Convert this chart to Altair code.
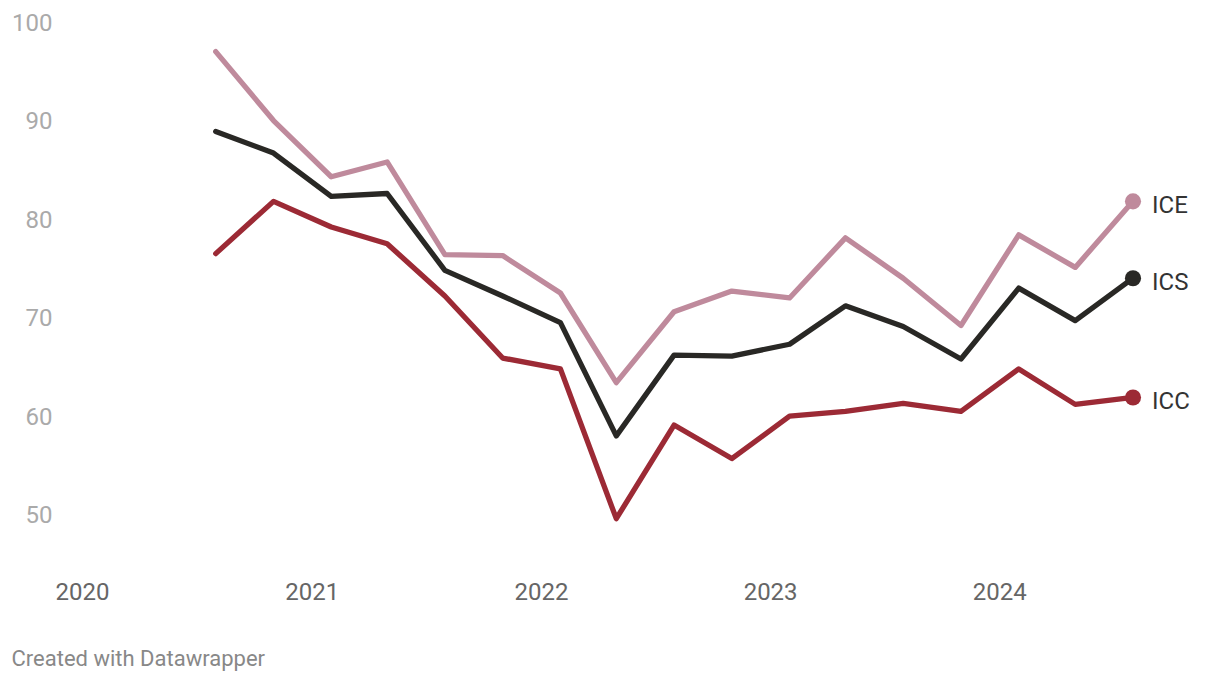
import altair as alt
import pandas as pd

dates = ["2020-08-01", "2020-11-01", "2021-02-01", "2021-05-01", "2021-08-01",
         "2021-11-01", "2022-02-01", "2022-05-01", "2022-08-01", "2022-11-01",
         "2023-02-01", "2023-05-01", "2023-08-01", "2023-11-01", "2024-02-01",
         "2024-05-01", "2024-08-01"]
ice = [97.1, 90.1, 84.4, 85.9, 76.5, 76.4, 72.6, 63.5, 70.7, 72.8, 72.1, 78.2, 74.1, 69.3, 78.5, 75.2, 81.9]
ics = [89.0, 86.8, 82.4, 82.7, 74.9, 72.3, 69.6, 58.1, 66.3, 66.2, 67.4, 71.3, 69.2, 65.9, 73.1, 69.8, 74.1]
icc = [76.6, 81.9, 79.3, 77.6, 72.3, 66.0, 64.9, 49.7, 59.2, 55.8, 60.1, 60.6, 61.4, 60.6, 64.9, 61.3, 62.0]

series = ["ICE", "ICS", "ICC"]
colors = ["#bf8a9c", "#292825", "#9c2a35"]
year_ticks = [2020, 2021, 2022, 2023, 2024]

rows = []
for name, vals in zip(series, [ice, ics, icc]):
    for d, v in zip(dates, vals):
        rows.append({"date": d, "value": v, "series": name})
df = pd.DataFrame(rows)
last = df[df["date"] == dates[-1]]

FONT = "Roboto"

x = alt.X("date:T",
          scale=alt.Scale(type="utc",
                          domain=[alt.DateTime(year=2020, month=1, date=1, utc=True),
                                  alt.DateTime(year=2024, month=8, date=1, utc=True)]),
          axis=alt.Axis(values=[alt.DateTime(year=y, month=1, date=1, utc=True) for y in year_ticks],
                        labelExpr="utcFormat(datum.value, '%Y')",
                        title=None, domain=False, ticks=False, grid=False,
                        labelFont=FONT, labelFontSize=24, labelColor="#666666",
                        labelPadding=15, labelFlush=False))
y = alt.Y("value:Q",
          scale=alt.Scale(domain=[45, 100], nice=False, zero=False),
          axis=alt.Axis(values=[50, 60, 70, 80, 90, 100], title=None, domain=False,
                        ticks=False, grid=False, labelFont=FONT, labelFontSize=24,
                        labelColor="#aaaaaa", labelPadding=30))
color = alt.Color("series:N", scale=alt.Scale(domain=series, range=colors), legend=None)

lines = alt.Chart(df).mark_line(strokeWidth=5.3, strokeCap="round", strokeJoin="round").encode(
    x=x, y=y, color=color, detail="series:N")
dots = alt.Chart(last).mark_point(filled=True, size=260, opacity=1).encode(x=x, y=y, color=color)
labels = alt.Chart(last).mark_text(align="left", baseline="middle", dx=19, dy=5,
                                   font=FONT, fontSize=24, color="#333333").encode(
    x=x, y=y, text="series:N")

chart = (lines + dots + labels).properties(
    width=1051, height=542,
    padding={"left": 82, "top": 23, "right": 87, "bottom": 117},
    autosize=alt.AutoSizeParams(type="none"),
    background="white",
    title=alt.TitleParams("Created with Datawrapper", orient="bottom", anchor="start",
                          frame="bounds", offset=45, font=FONT, fontSize=22,
                          fontWeight="normal", color="#888888"),
).configure_view(strokeWidth=0, stroke="transparent")

chart.save("out.html", embed_options={"renderer": "svg", "actions": False})
